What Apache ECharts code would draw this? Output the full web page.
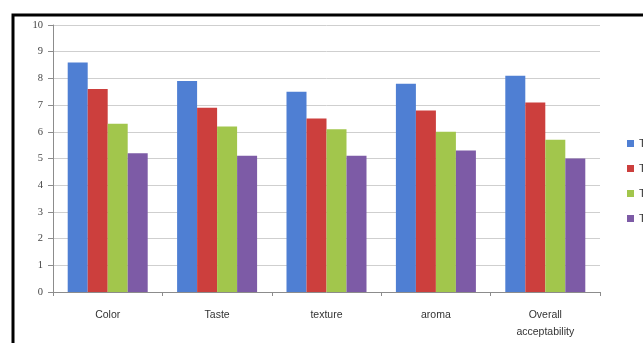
<!DOCTYPE html>
<html>
<head>
<meta charset="utf-8">
<script src="https://cdn.jsdelivr.net/npm/echarts@6/dist/echarts.min.js"></script>
<style>
  html, body { margin: 0; padding: 0; background: #fff; }
  #main { width: 643px; height: 343px; }
</style>
</head>
<body>
<div id="main"></div>
<script>
var categories = ['Color', 'Taste', 'texture', 'aroma', 'Overall\nacceptability'];
var seriesNames = ['T0', 'T1', 'T2', 'T3'];
var t0 = [8.6, 7.9, 7.5, 7.8, 8.1];
var t1 = [7.6, 6.9, 6.5, 6.8, 7.1];
var t2 = [6.3, 6.2, 6.1, 6.0, 5.7];
var t3 = [5.2, 5.1, 5.1, 5.3, 5.0];
var yTicks = [0, 10, 1]; // min, max, interval

var colors = ['#4f7fd3', '#cc3f3d', '#a2c64c', '#7d5ba6'];
var values = [t0, t1, t2, t3];

var myChart = echarts.init(document.getElementById('main'));

var series = seriesNames.map(function(name, i){
    return {
        name: name,
        type: 'bar',
        data: values[i],
        barWidth: 20,
        barGap: '0%',
        itemStyle: { color: colors[i] }
    };
});

var option = {
    animation: false,
    color: colors,
    graphic: [{
        type: 'rect',
        shape: { x: 13, y: 15, width: 700, height: 400 },
        style: { fill: 'none', stroke: '#000', lineWidth: 3 },
        z: 100
    }],
    grid: {
        left: 53,
        right: 43,
        top: 25,
        bottom: 51
    },
    legend: {
        orient: 'vertical',
        left: 622,
        top: 133,
        itemWidth: 7,
        itemHeight: 7,
        itemGap: 14,
        icon: 'rect',
        textStyle: { fontSize: 11, color: '#333', fontFamily: 'Liberation Sans' },
        data: seriesNames
    },
    xAxis: {
        type: 'category',
        data: categories,
        axisLine: { lineStyle: { color: '#8c8c8c', width: 1 } },
        axisTick: { show: true, length: 4, lineStyle: { color: '#8c8c8c' } },
        axisLabel: {
            margin: 15,
            fontSize: 10.5,
            color: '#333',
            lineHeight: 17,
            fontFamily: 'Liberation Sans'
        }
    },
    yAxis: {
        type: 'value',
        min: yTicks[0],
        max: yTicks[1],
        interval: yTicks[2],
        axisLine: { show: true, lineStyle: { color: '#8c8c8c', width: 1 } },
        axisTick: { show: true, length: 5, lineStyle: { color: '#8c8c8c' } },
        splitLine: { lineStyle: { color: '#cfcfcf', width: 1 } },
        axisLabel: {
            margin: 10,
            fontSize: 10.5,
            color: '#444',
            fontFamily: 'Liberation Serif'
        }
    },
    series: series
};

if (option && typeof option === 'object') {
    myChart.setOption(option, true);
}
</script>
</body>
</html>
